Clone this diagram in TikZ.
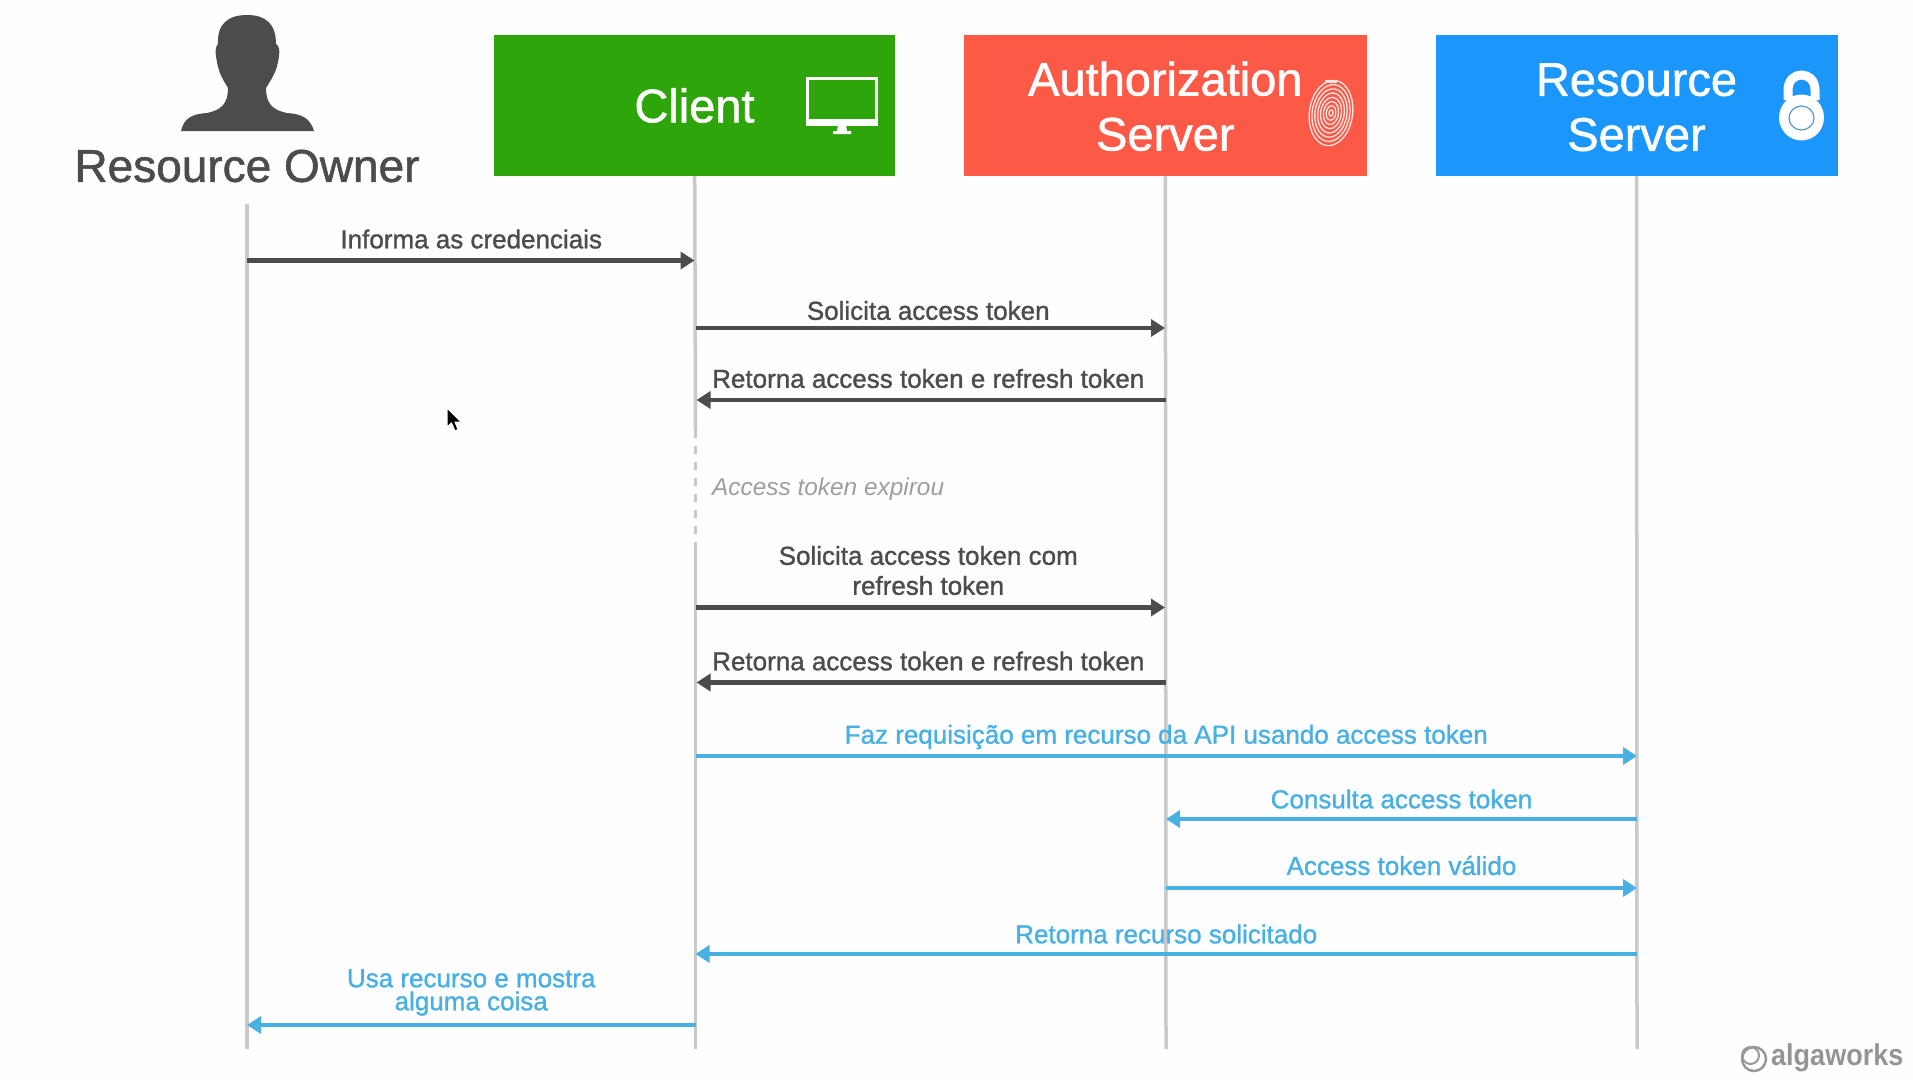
\documentclass[tikz,border=0pt]{standalone}
\usepackage{fontspec}
\setmainfont{Liberation Sans}
\newfontface\medfont{Liberation Sans}[FakeBold=1.2]
\newfontface\medital{Liberation Sans Italic}
\newfontface\brandfont{Liberation Sans Bold}
\usepackage{xcolor}
\usetikzlibrary{arrows.meta}

\definecolor{inkdark}{HTML}{4C4C4E}
\definecolor{inkblue}{HTML}{48B0E2}
\definecolor{linegray}{HTML}{C9C9C9}
\definecolor{boxgreen}{HTML}{2EA50B}
\definecolor{boxred}{HTML}{FC5947}
\definecolor{boxblue}{HTML}{1B96FA}

\tikzset{
  actor/.style={rectangle,text=white,align=center,minimum width=402pt,minimum height=141pt,inner sep=0pt,font=\medfont\fontsize{47}{55}\selectfont},
  lifeline/.style={draw=linegray,line width=3.5pt},
  msgdark/.style={draw=inkdark,line width=4.2pt,-{Triangle[length=14pt,width=17pt]},shorten >=1pt},
  msgblue/.style={draw=inkblue,line width=4.2pt,-{Triangle[length=14pt,width=17pt]}},
  lbldark/.style={midway,text=inkdark,align=center,yshift=21.5pt,xshift=-2.5pt,inner sep=0pt,font=\medfont\fontsize{26}{30}\selectfont},
  lblblue/.style={midway,text=inkblue,align=center,yshift=20pt,inner sep=0pt,font=\medfont\fontsize{26}{30}\selectfont},
}

\begin{document}
\begin{tikzpicture}[x=1pt,y=-1pt]
  \useasboundingbox (0,0) rectangle (1913,1079);
  \fill[white!99.6!black] (0,0) rectangle (1913,1079);

  % the actors
  \node[inner sep=0pt,minimum height=76pt,text=inkdark,font=\medfont\fontsize{46}{50}\selectfont] (owner) at (247,166) {Resource Owner};
  \node[actor,fill=boxgreen,minimum width=401pt] (client) at (694.5,105.5) {Client};
  \node[actor,fill=boxred,minimum width=403pt] (authsrv) at (1165.3,105.5) {\rule{0pt}{35.5pt}Authorization\\Server};
  \node[actor,fill=boxblue] (ressrv) at (1636.5,105.5) {\rule{0pt}{36pt}Resource\\Server};

  % points on the lifelines
  \foreach \m/\ypos in {a/260.5,b/328,c/400,d/607.5,e/682.5,f/756,g/819,h/888,i/954,j/1025,end/1049}{
    \coordinate (own\m) at (247,\ypos);
    \coordinate (cli\m) at (695.5,\ypos);
    \coordinate (asv\m) at (1166,\ypos);
    \coordinate (rsv\m) at (1637,\ypos);
  }
  \coordinate (gapa) at (695.5,430);
  \coordinate (gapb) at (695.5,549);

  \draw[lifeline] (owner) -- (ownend);
  \draw[lifeline] (client) -- (gapa);
  \draw[lifeline,dash pattern=on 8pt off 8pt] (gapa) -- (gapb);
  \draw[lifeline] (gapb) -- (cliend);
  \draw[lifeline] (authsrv) -- (asvend);
  \draw[lifeline] (ressrv) -- (rsvend);

  % person
  \fill[inkdark] (181,131) .. controls (184,118) and (192,114) .. (207,113)
    .. controls (222,110) and (228,103) .. (228,88)
    .. controls (222,78) and (218,72) .. (216,56)
    .. controls (215,50) and (216,46) .. (218,44)
    .. controls (217,24) and (228,15) .. (247,15)
    .. controls (266,15) and (276,24) .. (276,44)
    .. controls (279,46) and (280,50) .. (279,56)
    .. controls (277,72) and (272,78) .. (266,88)
    .. controls (266,103) and (272,110) .. (287,113)
    .. controls (302,114) and (310,118) .. (314,131) -- cycle;

  % monitor
  \draw[white,line width=3pt,fill=boxgreen] (807.5,78.5) rectangle (876.5,121);
  \fill[white] (806,119) rectangle (878,125.5);
  \fill[white] (838,125) -- (846,125) -- (847,131) -- (851,131) -- (851,134) -- (833,134) -- (833,131) -- (837,131) -- cycle;

  % fingerprint
  \foreach \rr in {2,4.8,7.6,10.4,13.2,16,18.8,21.6}{
    \draw[white!85!boxred,line width=1.3pt,rotate around={-8:(1331,113)}] (1331,113) ellipse ({\rr pt} and {\rr*1.52 pt});
  }
  \fill[white!85!boxred] (1325,80) rectangle (1337,83);

  % lock
  \draw[white,line width=9pt] (1788,100) -- (1788,90) .. controls (1788,70) and (1815,70) .. (1815,90) -- (1815,100);
  \fill[white] (1801.5,117.5) ellipse (22.5pt and 23pt);
  \draw[boxblue!70!black!70!white,line width=1.2pt] (1801.5,118) ellipse (12.5pt and 12pt);

  % messages
  \draw[msgdark] (owna) -- (clia) node[lbldark,xshift=2.5pt] (la) {Informa as credenciais};
  \draw[msgdark] (clib) -- (asvb) node[lbldark,yshift=-4pt] (lb) {Solicita access token};
  \draw[msgdark] (asvc) -- (clic) node[lbldark] (lc) {Retorna access token e refresh token};
  \node[anchor=west,inner sep=0pt,text=black!38,font=\medital\fontsize{24.4}{30}\selectfont] (expired) at (712,489) {Access token expirou};
  \draw[msgdark] (clid) -- (asvd) node[lbldark,yshift=15.5pt] (ld) {Solicita access token com\\refresh token};
  \draw[msgdark] (asve) -- (clie) node[lbldark] (le) {Retorna access token e refresh token};
  \draw[msgblue] (clif) -- (rsvf) node[lblblue,yshift=-1pt] (lf) {Faz requisição em recurso da API usando access token};
  \draw[msgblue] (rsvg) -- (asvg) node[lblblue] (lg) {Consulta access token};
  \draw[msgblue] (asvh) -- (rsvh) node[lblblue,yshift=2.5pt] (lh) {Access token válido};
  \draw[msgblue] (rsvi) -- (clii) node[lblblue] (li) {Retorna recurso solicitado};
  \draw[msgblue] (clij) -- (ownj) node[lblblue,yshift=12.5pt,font=\medfont\fontsize{26}{23}\selectfont] (lj) {Usa recurso e mostra\\alguma coisa};

  % cursor
  \fill[black,draw=white,line width=1pt] (447,408) -- (447,427) -- (451.5,423) -- (455,431) -- (458,429.5) -- (455,422) -- (461,422) -- cycle;

  % watermark
  \draw[black!40,line width=2.5pt] (1754,1059) circle (12pt);
  \draw[black!40,line width=2pt] (1750.5,1055.5) circle (8.5pt);
  \node[anchor=west,inner sep=0pt,text=black!42,font=\brandfont\fontsize{30}{30}\selectfont] (brand) at (1771,1058) {\scalebox{.9}[1]{algaworks}};
\end{tikzpicture}
\end{document}
